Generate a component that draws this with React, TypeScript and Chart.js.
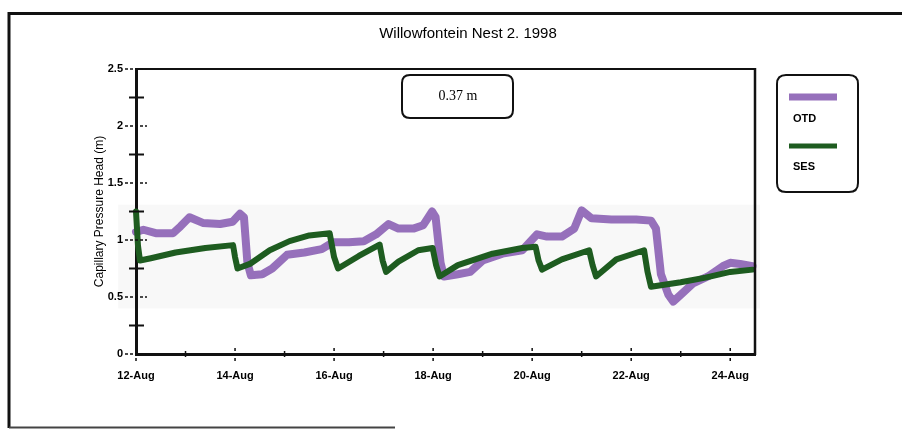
import React, { useEffect, useRef } from "react";
import { Chart, registerables } from "chart.js";

Chart.register(...registerables);

const chartTitle = "Willowfontein Nest 2. 1998";
const yAxisTitle = "Capillary Pressure Head (m)";
const annotationText = "0.37 m";
const seriesNames = ["OTD", "SES"];
const seriesColors = ["#9670bb", "#1e5c20"];

const dateLabels = [
  "12-Aug", "13-Aug", "14-Aug", "15-Aug", "16-Aug", "17-Aug", "18-Aug",
  "19-Aug", "20-Aug", "21-Aug", "22-Aug", "23-Aug", "24-Aug",
];
const dayTicks = [0, 1, 2, 3, 4, 5, 6, 7, 8, 9, 10, 11, 12];
const yTicks = [0, 0.25, 0.5, 0.75, 1, 1.25, 1.5, 1.75, 2, 2.25, 2.5];

// days after 12-Aug 00:00
const otdDays = [
  0.0, 0.15, 0.4, 0.75, 0.9, 1.08, 1.35, 1.7, 1.95, 2.1, 2.18, 2.25, 2.32,
  2.55, 2.75, 3.05, 3.4, 3.75, 3.98, 4.3, 4.6, 4.85, 5.1, 5.3, 5.6, 5.8,
  5.98, 6.05, 6.15, 6.22, 6.5, 6.75, 7.0, 7.4, 7.8, 7.95, 8.1, 8.3, 8.6,
  8.85, 9.0, 9.2, 9.6, 10.1, 10.4, 10.5, 10.6, 10.75, 10.85, 11.0, 11.25,
  11.55, 11.85, 12.0, 12.2, 12.45,
];
const otdValues = [
  1.07, 1.09, 1.06, 1.06, 1.12, 1.2, 1.15, 1.14, 1.16, 1.23, 1.2, 0.8, 0.69,
  0.7, 0.75, 0.87, 0.89, 0.92, 0.98, 0.98, 0.99, 1.05, 1.14, 1.1, 1.1, 1.13,
  1.25, 1.2, 0.8, 0.68, 0.7, 0.72, 0.82, 0.88, 0.91, 0.98, 1.05, 1.03, 1.03,
  1.1, 1.26, 1.19, 1.18, 1.18, 1.17, 1.1, 0.7, 0.52, 0.46, 0.52, 0.62,
  0.68, 0.77, 0.8, 0.79, 0.77,
];

const sesDays = [
  0.0, 0.04, 0.08, 0.3, 0.8, 1.4, 1.96, 2.0, 2.05, 2.3, 2.7, 3.1, 3.5, 3.91,
  4.0, 4.08, 4.5, 4.92, 4.98, 5.05, 5.3, 5.7, 5.99, 6.06, 6.13, 6.5, 7.2,
  7.8, 8.07, 8.13, 8.2, 8.6, 9.15, 9.22, 9.29, 9.7, 10.26, 10.33, 10.4,
  11.0, 11.5, 12.0, 12.45,
];
const sesValues = [
  1.25, 0.95, 0.82, 0.84, 0.89, 0.93, 0.955, 0.85, 0.75, 0.79, 0.91, 0.99,
  1.04, 1.06, 0.85, 0.75, 0.86, 0.96, 0.82, 0.72, 0.81, 0.91, 0.93, 0.78,
  0.68, 0.78, 0.88, 0.93, 0.94, 0.82, 0.74, 0.83, 0.91, 0.78, 0.68, 0.83,
  0.91, 0.72, 0.59, 0.63, 0.67, 0.72, 0.74,
];

function roundRect(ctx: CanvasRenderingContext2D, x: number, y: number, w: number, h: number, r: number) {
  ctx.beginPath();
  ctx.moveTo(x + r, y);
  ctx.lineTo(x + w - r, y);
  ctx.quadraticCurveTo(x + w, y, x + w, y + r);
  ctx.lineTo(x + w, y + h - r);
  ctx.quadraticCurveTo(x + w, y + h, x + w - r, y + h);
  ctx.lineTo(x + r, y + h);
  ctx.quadraticCurveTo(x, y + h, x, y + h - r);
  ctx.lineTo(x, y + r);
  ctx.quadraticCurveTo(x, y, x + r, y);
  ctx.closePath();
}

const decorPlugin = {
  id: "decor",
  beforeDraw(chart: any) {
    const { ctx, width, height, scales } = chart;
    ctx.save();
    ctx.fillStyle = "#ffffff";
    ctx.fillRect(0, 0, width, height);
    // faint scanned band behind the series
    const xs = scales.x;
    const ys = scales.y;
    const l = xs.getPixelForValue(-0.36);
    const r = xs.getPixelForValue(12.6);
    const t = ys.getPixelForValue(1.31);
    const b = ys.getPixelForValue(0.4);
    ctx.fillStyle = "#f8f8f8";
    ctx.fillRect(l, t, r - l, b - t);
    ctx.restore();
  },
  afterDraw(chart: any) {
    const { ctx, chartArea, scales } = chart;
    const xs = scales.x;
    const ys = scales.y;
    ctx.save();
    ctx.strokeStyle = "#111";
    // plot frame (top and right)
    ctx.lineWidth = 2;
    ctx.beginPath();
    ctx.moveTo(chartArea.left, chartArea.top);
    ctx.lineTo(chartArea.right, chartArea.top);
    ctx.stroke();
    ctx.lineWidth = 2.5;
    ctx.beginPath();
    ctx.moveTo(chartArea.right, chartArea.top - 1);
    ctx.lineTo(chartArea.right, chartArea.bottom + 1);
    ctx.stroke();

    // y cross ticks
    const ax = chartArea.left;
    yTicks.forEach((v) => {
      const py = ys.getPixelForValue(v);
      const major = Math.abs(v * 2 - Math.round(v * 2)) < 1e-9;
      ctx.beginPath();
      if (major) {
        ctx.lineWidth = 1.5;
        ctx.setLineDash([3, 2]);
        ctx.moveTo(ax - 11, py);
        ctx.lineTo(ax + 11, py);
      } else {
        ctx.lineWidth = 2;
        ctx.setLineDash([]);
        ctx.moveTo(ax - 7, py);
        ctx.lineTo(ax + 8, py);
      }
      ctx.stroke();
    });
    ctx.setLineDash([]);
    // x cross ticks
    const ay = chartArea.bottom;
    dayTicks.forEach((d) => {
      const px = xs.getPixelForValue(d);
      const major = d % 2 === 0;
      ctx.beginPath();
      ctx.lineWidth = 1.5;
      if (major) {
        ctx.setLineDash([3, 2]);
        ctx.moveTo(px, ay - 6);
        ctx.lineTo(px, ay + 7);
      } else {
        ctx.setLineDash([]);
        ctx.moveTo(px, ay - 3);
        ctx.lineTo(px, ay + 3);
      }
      ctx.stroke();
    });
    ctx.setLineDash([]);

    // outer border
    ctx.strokeStyle = "#111";
    ctx.lineWidth = 3;
    ctx.beginPath();
    ctx.moveTo(9, 428);
    ctx.lineTo(9, 13.5);
    ctx.lineTo(902, 13.5);
    ctx.stroke();
    ctx.strokeStyle = "#444";
    ctx.lineWidth = 2;
    ctx.beginPath();
    ctx.moveTo(9, 427.5);
    ctx.lineTo(395, 427.5);
    ctx.stroke();

    // chart title
    ctx.fillStyle = "#000";
    ctx.font = "15px 'Liberation Sans', Arial, sans-serif";
    ctx.textAlign = "center";
    ctx.textBaseline = "middle";
    ctx.fillText(chartTitle, 468, 34);

    // annotation box
    ctx.strokeStyle = "#111";
    ctx.lineWidth = 2;
    roundRect(ctx, 402, 75, 111, 43, 8);
    ctx.stroke();
    ctx.font = "14px 'Liberation Serif', 'Times New Roman', serif";
    ctx.fillText(annotationText, 458, 96);

    // legend
    roundRect(ctx, 777, 75, 81, 117, 9);
    ctx.stroke();
    ctx.lineCap = "butt";
    ctx.strokeStyle = seriesColors[0];
    ctx.lineWidth = 7;
    ctx.beginPath();
    ctx.moveTo(789, 97);
    ctx.lineTo(837, 97);
    ctx.stroke();
    ctx.strokeStyle = seriesColors[1];
    ctx.lineWidth = 5;
    ctx.beginPath();
    ctx.moveTo(789, 146);
    ctx.lineTo(837, 146);
    ctx.stroke();
    ctx.fillStyle = "#000";
    ctx.font = "bold 11px 'Liberation Sans', Arial, sans-serif";
    ctx.textAlign = "left";
    ctx.fillText(seriesNames[0], 793, 119);
    ctx.fillText(seriesNames[1], 793, 167);
    ctx.restore();
  },
};

export default function App() {
  const canvasRef = useRef<HTMLCanvasElement | null>(null);

  useEffect(() => {
    const canvas = canvasRef.current;
    if (!canvas) return;
    const chart = new Chart(canvas, {
      type: "line",
      data: {
        datasets: [
          {
            label: seriesNames[0],
            data: otdDays.map((d, i) => ({ x: d, y: otdValues[i] })),
            borderColor: seriesColors[0],
            borderWidth: 8,
            pointRadius: 0,
            tension: 0,
            borderJoinStyle: "round",
            borderCapStyle: "round",
            order: 2,
          },
          {
            label: seriesNames[1],
            data: sesDays.map((d, i) => ({ x: d, y: sesValues[i] })),
            borderColor: seriesColors[1],
            borderWidth: 6,
            pointRadius: 0,
            tension: 0,
            borderJoinStyle: "round",
            borderCapStyle: "round",
            order: 1,
          },
        ],
      },
      options: {
        responsive: false,
        animation: false,
        devicePixelRatio: 1,
        clip: false,
        layout: { padding: { left: 0, top: 69, right: 147, bottom: 0 } },
        plugins: {
          legend: { display: false },
          title: { display: false },
          tooltip: { enabled: false },
        },
        scales: {
          x: {
            type: "linear",
            min: 0,
            max: 12.5,
            afterBuildTicks: (s: any) => {
              s.ticks = dayTicks.map((v) => ({ value: v }));
            },
            afterFit: (s: any) => {
              s.height = 75;
            },
            grid: { display: false, drawTicks: false },
            border: { display: true, color: "#111", width: 3 },
            ticks: {
              autoSkip: false,
              maxRotation: 0,
              padding: 15,
              color: "#000",
              font: { family: "'Liberation Sans', Arial, sans-serif", size: 11, weight: "bold" },
              callback: (value: any) => (Number(value) % 2 === 0 ? dateLabels[Number(value)] : ""),
            },
          },
          y: {
            type: "linear",
            min: 0,
            max: 2.5,
            afterBuildTicks: (s: any) => {
              s.ticks = yTicks.map((v) => ({ value: v }));
            },
            afterFit: (s: any) => {
              s.width = 136;
            },
            grid: { display: false, drawTicks: false },
            border: { display: true, color: "#111", width: 3 },
            title: {
              display: true,
              text: yAxisTitle,
              color: "#000",
              padding: { top: 92, bottom: 0 },
              font: { family: "'Liberation Sans', Arial, sans-serif", size: 12 },
            },
            ticks: {
              autoSkip: false,
              padding: 13,
              color: "#000",
              font: { family: "'Liberation Sans', Arial, sans-serif", size: 11, weight: "bold" },
              callback: (value: any) => {
                const v = Number(value);
                return Math.abs(v * 2 - Math.round(v * 2)) < 1e-9 ? String(v) : "";
              },
            },
          },
        },
      },
      plugins: [decorPlugin],
    });
    return () => chart.destroy();
  }, []);

  return (
    <div style={{ position: "fixed", left: 0, top: 0, width: 902, height: 429, background: "#fff" }}>
      <canvas ref={canvasRef} width={902} height={429} style={{ display: "block" }} />
    </div>
  );
}
